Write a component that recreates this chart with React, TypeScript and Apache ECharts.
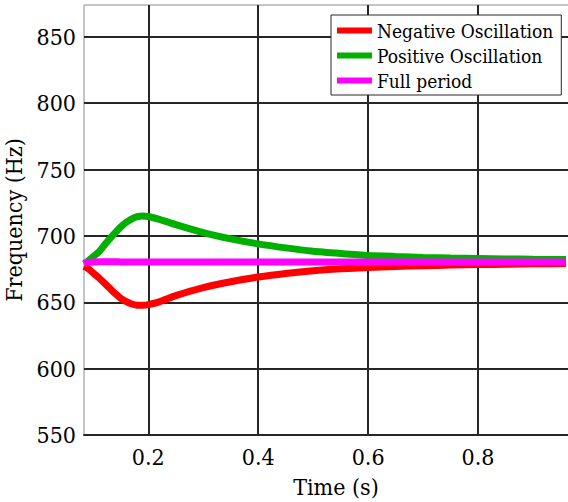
import React, { useEffect, useRef } from "react";
import * as echarts from "echarts";

const time = [0.083, 0.09, 0.1, 0.11, 0.12, 0.13, 0.14, 0.15, 0.16, 0.17, 0.18, 0.19, 0.2, 0.22, 0.25, 0.3, 0.35, 0.4, 0.45, 0.5, 0.55, 0.6, 0.65, 0.7, 0.75, 0.8, 0.85, 0.9, 0.96];
const negativeOsc = [677, 675.5, 672, 668.5, 664.5, 660.5, 656.5, 653, 650.5, 648.7, 647.8, 647.7, 648.2, 650.3, 655, 661, 665.5, 669, 671.7, 673.8, 675.2, 676.2, 677, 677.6, 678, 678.4, 678.7, 679, 679.2];
const positiveOsc = [679, 681, 684.5, 688, 693, 698, 702.5, 706.8, 710.3, 712.9, 714.5, 715, 714.6, 712.5, 708.5, 702.5, 697.8, 694, 691, 688.5, 686.8, 685.3, 684.5, 683.8, 683.3, 683, 682.7, 682.4, 682.2];
const fullPeriod = [679, 680, 680.4, 680.5, 680.5, 680.5, 680.5, 680.4, 680.4, 680.4, 680.4, 680.4, 680.4, 680.4, 680.3, 680.3, 680.3, 680.3, 680.3, 680.3, 680.3, 680.3, 680.3, 680.3, 680.3, 680.3, 680.3, 680.3, 680.3];

const names = ["Negative Oscillation", "Positive Oscillation", "Full period"];
const colors = ["#ff0000", "#00b000", "#ff00ff"];
const seriesValues = [negativeOsc, positiveOsc, fullPeriod];

const FONT = "DejaVu Serif Condensed";
const DARK = "#262626";

export default function App() {
  const ref = useRef<HTMLDivElement>(null);
  useEffect(() => {
    const chart = echarts.init(ref.current!, null, { renderer: "svg" });
    chart.setOption({
      animation: false,
      textStyle: { fontFamily: FONT },
      grid: {
        left: 84,
        top: 5,
        bottom: 67,
        right: -20,
        outerBoundsMode: "none",
        containLabel: false,
        show: true,
        borderColor: "#8a8a8a",
        borderWidth: 1,
        backgroundColor: "#fff",
      },
      legend: {
        orient: "vertical",
        left: 331,
        top: 15,
        data: names,
        icon: "rect",
        itemWidth: 35,
        itemHeight: 6,
        itemGap: 6,
        padding: [6, 8, 5, 6],
        backgroundColor: "#fff",
        borderColor: DARK,
        borderWidth: 1,
        textStyle: { fontFamily: FONT, fontSize: 19, color: "#000" },
      },
      xAxis: {
        type: "value",
        min: 0.083,
        max: 1.0,
        name: "Time (s)",
        nameLocation: "middle",
        nameGap: 40,
        nameTextStyle: { fontFamily: FONT, fontSize: 23, color: "#000" },
        axisLine: { show: true, lineStyle: { color: DARK, width: 2 } },
        axisTick: { show: false },
        axisLabel: {
          fontFamily: FONT,
          fontSize: 23,
          color: "#000",
          margin: 10,
          showMinLabel: false,
          showMaxLabel: false,
        },
        splitLine: {
          show: true,
          lineStyle: { color: ["transparent", DARK, DARK, DARK, DARK, DARK], width: 2 },
        },
      },
      yAxis: {
        type: "value",
        min: 550,
        max: 874,
        interval: 50,
        name: "Frequency (Hz)",
        nameLocation: "middle",
        nameGap: 46,
        nameTextStyle: { fontFamily: FONT, fontSize: 23, color: "#000" },
        axisLine: { show: false },
        axisTick: { show: false },
        axisLabel: {
          fontFamily: FONT,
          fontSize: 23,
          color: "#000",
          margin: 8,
          showMaxLabel: false,
        },
        splitLine: {
          show: true,
          lineStyle: {
            color: ["transparent", DARK, DARK, DARK, DARK, DARK, DARK, "transparent"],
            width: 2,
          },
        },
      },
      series: names.map((n, i) => ({
        name: n,
        type: "line",
        data: time.map((t, j) => [t, seriesValues[i][j]]),
        smooth: 0.2,
        showSymbol: false,
        symbol: "none",
        lineStyle: { color: colors[i], width: 7 },
        itemStyle: { color: colors[i] },
        z: 2 + i,
      })),
    });
    return () => chart.dispose();
  }, []);
  return (
    <div
      ref={ref}
      style={{ position: "absolute", left: 0, top: 0, width: 568, height: 502, background: "#fff" }}
    />
  );
}
